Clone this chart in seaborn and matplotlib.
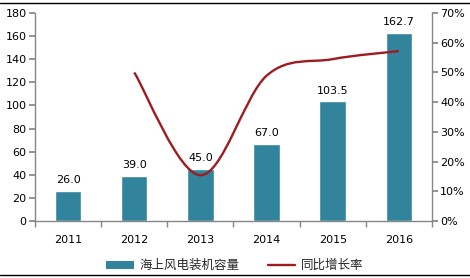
import matplotlib
matplotlib.use("Agg")
import matplotlib.pyplot as plt
import seaborn as sns
import pandas as pd
from matplotlib.path import Path
from matplotlib.patches import PathPatch
from matplotlib.lines import Line2D
from matplotlib.patches import Patch

years = ["2011", "2012", "2013", "2014", "2015", "2016"]
capacity = [26.0, 39.0, 45.0, 67.0, 103.5, 162.7]
growth = [None, 50.0, 15.4, 48.9, 54.5, 57.2]
bar_name = "海上风电装机容量"
line_name = "同比增长率"
left_ticks = [0, 20, 40, 60, 80, 100, 120, 140, 160, 180]
right_ticks = [0, 10, 20, 30, 40, 50, 60, 70]

sns.set_theme(style="white")
plt.rcParams['font.family'] = ['DejaVu Sans', 'Noto Sans CJK SC']

bar_color = "#31849B"
line_color = "#9E1B22"
axis_color = "#868686"

fig = plt.figure(figsize=(4.7, 2.78), dpi=100)
ax = fig.add_axes([0.0745, 0.205, 0.8445, 0.748])

df = pd.DataFrame({"year": years, "capacity": capacity})
sns.barplot(data=df, x="year", y="capacity", color=bar_color, width=0.4,
            saturation=1, ax=ax)
ax.set_xlim(-0.5, len(years) - 0.5)
ax.set_ylim(0, 180)
ax.set_yticks(left_ticks)
ax.set_xlabel("")
ax.set_ylabel("")
for i, v in enumerate(capacity):
    ax.annotate(f"{v:.1f}", (i, v), xytext=(0, 4), textcoords="offset points",
                ha="center", va="bottom", fontsize=8, color="#000000")

for s in ["top", "right"]:
    ax.spines[s].set_visible(False)
for s in ["left", "bottom"]:
    ax.spines[s].set_color(axis_color)
    ax.spines[s].set_linewidth(1)
ax.tick_params(axis="y", which="both", left=True, length=4, color=axis_color,
               labelsize=8, labelcolor="#000000", pad=2)
ax.tick_params(axis="x", which="major", bottom=False, labelsize=8,
               labelcolor="#000000", pad=4)
ax.set_xticks([i + 0.5 for i in range(-1, len(years))], minor=True)
ax.tick_params(axis="x", which="minor", bottom=True, length=4,
               color=axis_color, width=1)

ax2 = ax.twinx()
ax2.set_ylim(0, 70)
ax2.set_yticks(right_ticks)
ax2.set_yticklabels([f"{t}%" for t in right_ticks])
for s in ["top", "left", "bottom"]:
    ax2.spines[s].set_visible(False)
ax2.spines["right"].set_color(axis_color)
ax2.spines["right"].set_linewidth(1)
ax2.tick_params(axis="y", right=True, length=4, color=axis_color,
                labelsize=8, labelcolor="#000000", pad=2)
ax2.grid(False)
ax.grid(False)

# smoothed line (Catmull-Rom Bezier through data points)
pts = [(i, g) for i, g in enumerate(growth) if g is not None]
verts = [pts[0]]
codes = [Path.MOVETO]
n = len(pts)
for k in range(n - 1):
    p0 = pts[max(k - 1, 0)]
    p1 = pts[k]
    p2 = pts[k + 1]
    p3 = pts[min(k + 2, n - 1)]
    c1 = (p1[0] + (p2[0] - p0[0]) / 6, p1[1] + (p2[1] - p0[1]) / 6)
    c2 = (p2[0] - (p3[0] - p1[0]) / 6, p2[1] - (p3[1] - p1[1]) / 6)
    verts += [c1, c2, p2]
    codes += [Path.CURVE4] * 3
patch = PathPatch(Path(verts, codes), facecolor="none", edgecolor=line_color,
                  lw=1.7, capstyle="butt")
ax2.add_patch(patch)

handles = [Patch(facecolor=bar_color, edgecolor="none"),
           Line2D([0], [0], color=line_color, lw=1.7)]
fig.legend(handles, [bar_name, line_name], loc="center",
           bbox_to_anchor=(0.5, 0.045), ncol=2, frameon=False,
           handlelength=2.2, handleheight=0.6,
           columnspacing=2.2, handletextpad=0.5,
           prop={'family': ['Noto Sans CJK SC', 'DejaVu Sans'], 'size': 9})

fig.add_artist(Line2D([0, 1], [0.99, 0.99], color="#000000", lw=1,
                      transform=fig.transFigure))
fig.add_artist(Line2D([0, 1], [0.01, 0.01], color="#000000", lw=1,
                      transform=fig.transFigure))

fig.savefig("out.png", dpi=100)
